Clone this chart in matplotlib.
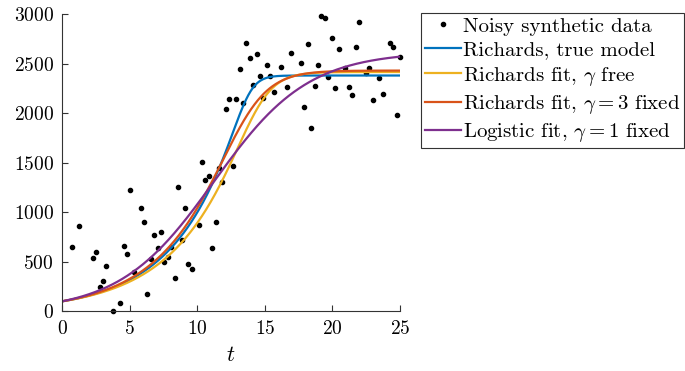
import numpy as np
import matplotlib
matplotlib.use('Agg')
import matplotlib.pyplot as plt

# computer modern look, like the latex interpreter
plt.rcParams['font.family'] = 'serif'
plt.rcParams['font.serif'] = ['cmr10', 'DejaVu Serif']
plt.rcParams['mathtext.fontset'] = 'cm'
plt.rcParams['axes.unicode_minus'] = False
plt.rcParams['axes.formatter.use_mathtext'] = True

# noisy data (t on a 100 point grid from 0 to 25)
t_data = [0.76, 1.26, 2.27, 2.53, 2.78, 3.03, 3.28, 3.79, 4.29, 4.55,
          4.80, 5.05, 5.30, 5.81, 6.06, 6.31, 6.57, 6.82, 7.07, 7.32,
          7.58, 7.83, 8.08, 8.33, 8.59, 8.84, 9.09, 9.34, 9.60, 10.10,
          10.35, 10.61, 10.86, 11.11, 11.36, 11.62, 11.87, 12.12, 12.37, 12.63,
          12.88, 13.13, 13.38, 13.64, 13.89, 14.14, 14.39, 14.65, 14.90, 15.15,
          15.40, 15.66, 16.16, 16.67, 16.92, 17.68, 17.93, 18.18, 18.43, 18.69,
          18.94, 19.19, 19.44, 19.70, 19.95, 20.20, 20.45, 20.96, 21.21, 21.46,
          21.72, 21.97, 22.47, 22.73, 22.98, 23.48, 23.74, 24.24, 24.49, 24.75,
          25.00]
y_data = [651, 860, 537, 597, 247, 308, 456, 5, 80, 656,
          579, 1225, 393, 1043, 902, 177, 524, 774, 641, 797,
          499, 552, 645, 333, 1258, 718, 1044, 473, 431, 870,
          1505, 1329, 1366, 635, 900, 1447, 1302, 2040, 2146, 1465,
          2139, 2442, 2098, 2706, 2558, 2284, 2602, 2371, 2158, 2486,
          2373, 2215, 2466, 2259, 2608, 2504, 2063, 2703, 1852, 2272,
          2491, 2982, 2958, 2366, 2754, 2252, 2646, 2457, 2262, 2181,
          2666, 2918, 2406, 2451, 2131, 2353, 2192, 2706, 2669, 1977,
          2562]

# model parameters for each curve: K, C0, r, gamma
labels = ['Richards, true model',
          r'Richards fit, $\gamma$ free',
          r'Richards fit, $\gamma = 3$ fixed',
          r'Logistic fit, $\gamma = 1$ fixed']
K_vals = [2380, 2415, 2430, 2620]
C0_vals = [100, 100, 100, 100]
r_vals = [0.230, 0.219, 0.237, 0.287]
gamma_vals = [8, 4.5, 3, 1]
colors = ['#0072BD', '#EDB120', '#D95319', '#7E2F8E']


def richards(t, K, C0, r, g):
    return K / (1 + ((K / C0) ** g - 1) * np.exp(-r * g * t)) ** (1 / g)


fig = plt.figure(figsize=(6.85, 3.71), dpi=100)
ax = fig.add_axes([0.0905, 0.161, 0.4935, 0.801])

ax.plot(t_data, y_data, '.', color='k', markersize=6, clip_on=False,
        label='Noisy synthetic data')

tt = np.linspace(0, 25, 600)
for K, C0, r, g, c, lab in zip(K_vals, C0_vals, r_vals, gamma_vals, colors, labels):
    ax.plot(tt, richards(tt, K, C0, r, g), color=c, lw=1.6, label=lab)

ax.set_xlim(0, 25)
ax.set_ylim(0, 3000)
ax.set_xticks([0, 5, 10, 15, 20, 25])
ax.set_yticks(np.arange(0, 3001, 500))
ax.set_xlabel('$t$', fontsize=16, labelpad=6)

for s in ['top', 'right']:
    ax.spines[s].set_visible(False)
for s in ['left', 'bottom']:
    ax.spines[s].set_color('#333333')
    ax.spines[s].set_linewidth(0.8)
ax.tick_params(direction='in', length=4, width=0.8, color='#333333',
               labelsize=14)
ax.tick_params(axis='x', pad=6)
ax.tick_params(axis='y', pad=6)

leg = ax.legend(loc='upper left', bbox_to_anchor=(0.6145, 0.965),
                bbox_transform=fig.transFigure, fontsize=15,
                frameon=True, fancybox=False, framealpha=1,
                edgecolor='#333333', handlelength=1.7, handletextpad=0.1,
                borderpad=0.2, labelspacing=0.25, borderaxespad=0)
leg.get_frame().set_linewidth(0.8)

fig.savefig('out.png', dpi=100)
